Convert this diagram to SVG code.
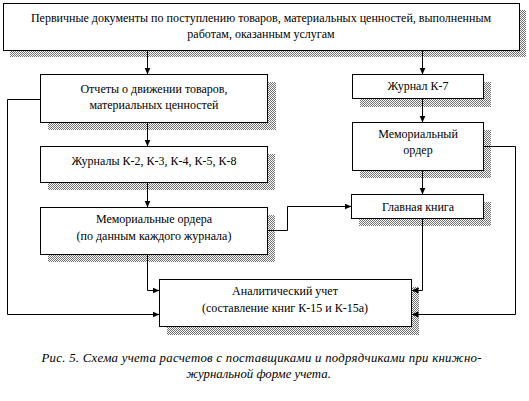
<svg xmlns="http://www.w3.org/2000/svg" width="529" height="401" viewBox="0 0 529 401">
<style>
.box{fill:#fff;stroke:#000;stroke-width:1}
.sh{fill:url(#shp)}
.t{font-family:'Liberation Serif','DejaVu Serif',serif;font-size:12px;fill:#000;text-anchor:middle}
.cap{font-family:'Liberation Serif','DejaVu Serif',serif;font-size:12.8px;font-style:italic;fill:#000;text-anchor:middle}
.ln{fill:none;stroke:#000;stroke-width:1}
.ar{marker-end:url(#arr)}
</style>
<defs>
<pattern id="shp" width="2" height="2" patternUnits="userSpaceOnUse">
<rect width="2" height="2" fill="#fff"/>
<rect width="1" height="1" fill="#707070"/>
<rect x="1" y="1" width="1" height="1" fill="#707070"/>
</pattern>
<marker id="arr" markerUnits="userSpaceOnUse" markerWidth="8" markerHeight="8" refX="7" refY="4" orient="auto">
<path d="M0,1 L7,4 L0,7 z" fill="#000"/>
</marker>
</defs>
<rect width="529" height="401" fill="#fff"/>
<g id="n-primary">
<rect class="sh" x="10" y="10" width="516" height="47"/>
<rect class="box" x="3.5" y="3.5" width="516" height="47"/>
<text class="t" x="261" y="22">Первичные документы по поступлению товаров, материальных ценностей, выполненным</text>
<text class="t" x="261" y="38">работам, оказанным услугам</text>
</g>
<g id="n-reports">
<rect class="sh" x="48" y="82" width="228" height="48"/>
<rect class="box" x="40.5" y="74.5" width="227" height="48"/>
<text class="t" x="154" y="93">Отчеты о движении товаров,</text>
<text class="t" x="154" y="109">материальных ценностей</text>
</g>
<g id="n-journals">
<rect class="sh" x="48" y="154" width="227" height="36"/>
<rect class="box" x="40.5" y="146.5" width="227" height="36"/>
<text class="t" x="154" y="165">Журналы К-2, К-3, К-4, К-5, К-8</text>
</g>
<g id="n-memorders">
<rect class="sh" x="48" y="215" width="227" height="47"/>
<rect class="box" x="40.5" y="207.5" width="227" height="47"/>
<text class="t" x="154" y="223">Мемориальные ордера</text>
<text class="t" x="154" y="240">(по данным каждого журнала)</text>
</g>
<g id="n-k7">
<rect class="sh" x="360" y="82" width="131" height="25"/>
<rect class="box" x="352.5" y="74.5" width="131" height="24"/>
<text class="t" x="418" y="90">Журнал К-7</text>
</g>
<g id="n-memorder">
<rect class="sh" x="360" y="130" width="131" height="48"/>
<rect class="box" x="352.5" y="122.5" width="131" height="48"/>
<text class="t" x="418" y="138">Мемориальный</text>
<text class="t" x="418" y="154">ордер</text>
</g>
<g id="n-ledger">
<rect class="sh" x="359" y="202" width="132" height="24"/>
<rect class="box" x="351.5" y="194.5" width="132" height="24"/>
<text class="t" x="418" y="211">Главная книга</text>
</g>
<g id="n-analytic">
<rect class="sh" x="167" y="287" width="252" height="48"/>
<rect class="box" x="159.5" y="279.5" width="252" height="47"/>
<text class="t" x="285" y="295">Аналитический учет</text>
<text class="t" x="285" y="312">(составление книг К-15 и К-15а)</text>
</g>
<g id="connectors">
<path class="ln ar" d="M147.5,50.5 V74.5"/>
<path class="ln ar" d="M422.5,50.5 V74.5"/>
<path class="ln ar" d="M147.5,122.5 V146.5"/>
<path class="ln ar" d="M147.5,182.5 V207.5"/>
<path class="ln ar" d="M422.5,98.5 V122.5"/>
<path class="ln ar" d="M422.5,170.5 V194.5"/>
<path class="ln ar" d="M40.5,99.5 H7.5 V314.5 H159.5"/>
<path class="ln ar" d="M147.5,254.5 V290.5 H159.5"/>
<path class="ln ar" d="M267.5,230.5 H287.5 V206.5 H351.5"/>
<path class="ln ar" d="M422.5,218.5 V290.5 H411.5"/>
<path class="ln ar" d="M483.5,146.5 H515.5 V314.5 H411.5"/>
</g>
<text class="cap" x="261.5" y="362" textLength="440" lengthAdjust="spacing">Рис. 5. Схема учета расчетов с поставщиками и подрядчиками при книжно-</text>
<text class="cap" x="258.5" y="378">журнальной форме учета.</text>
</svg>
